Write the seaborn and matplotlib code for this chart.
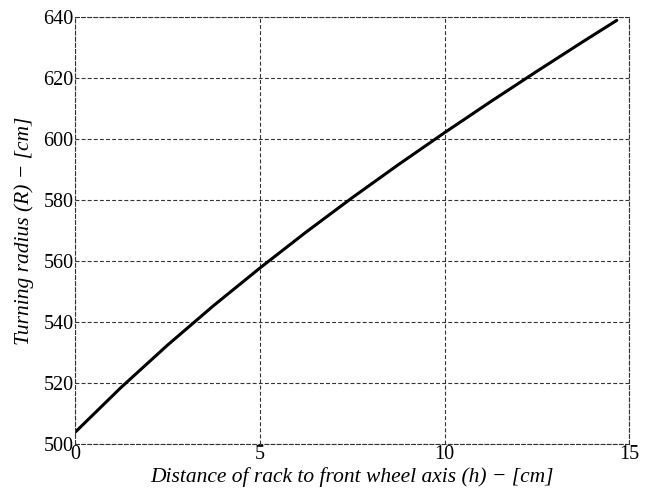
import matplotlib
matplotlib.use("Agg")
import matplotlib.pyplot as plt
import seaborn as sns
import pandas as pd

# Rack offset from the front wheel axis (cm) and resulting turning radius (cm)
rack_offset_cm = [0.0, 1.25, 2.5, 3.75, 5.0, 6.25, 7.5, 8.75, 10.0, 11.25, 12.5, 13.75, 14.66]
turning_radius_cm = [503.8, 518.6, 532.4, 545.4, 557.7, 569.5, 580.8,
                     591.65, 602.15, 612.35, 622.3, 632.05, 639.0]

x_ticks = [0, 5, 10, 15]
y_ticks = [500, 520, 540, 560, 580, 600, 620, 640]

sns.set_theme(style="white")
plt.rcParams["font.family"] = ["Liberation Serif", "DejaVu Serif"]

df = pd.DataFrame({"h": rack_offset_cm, "R": turning_radius_cm})

fig = plt.figure(figsize=(6.51, 4.88), dpi=100)
ax = fig.add_axes([0.1152, 0.0902, 0.8515, 0.8743])

sns.lineplot(data=df, x="h", y="R", ax=ax, color="black", linewidth=2.2)

ax.set_xlim(0, 15)
ax.set_ylim(500, 640)
ax.set_xticks(x_ticks)
ax.set_yticks(y_ticks)
ax.tick_params(axis="both", length=0, labelsize=14.5, colors="black")
ax.tick_params(axis="x", pad=1)
ax.tick_params(axis="y", pad=1)

grid_color = "#333333"
dash = (0, (3.5, 2))
ax.grid(True, color=grid_color, linestyle=dash, linewidth=0.8)
for side in ["top", "bottom", "left", "right"]:
    ax.spines[side].set_visible(True)
    ax.spines[side].set_color(grid_color)
    ax.spines[side].set_linestyle(dash)
    ax.spines[side].set_linewidth(0.8)

ax.set_xlabel("Distance of rack to front wheel axis (h) \u2212 [cm]",
              fontsize=15.5, style="italic", color="black", labelpad=2)
ax.set_ylabel("Turning radius (R) \u2212 [cm]",
              fontsize=15.5, style="italic", color="black", labelpad=7)

fig.savefig("out.png", dpi=100, facecolor="white")
